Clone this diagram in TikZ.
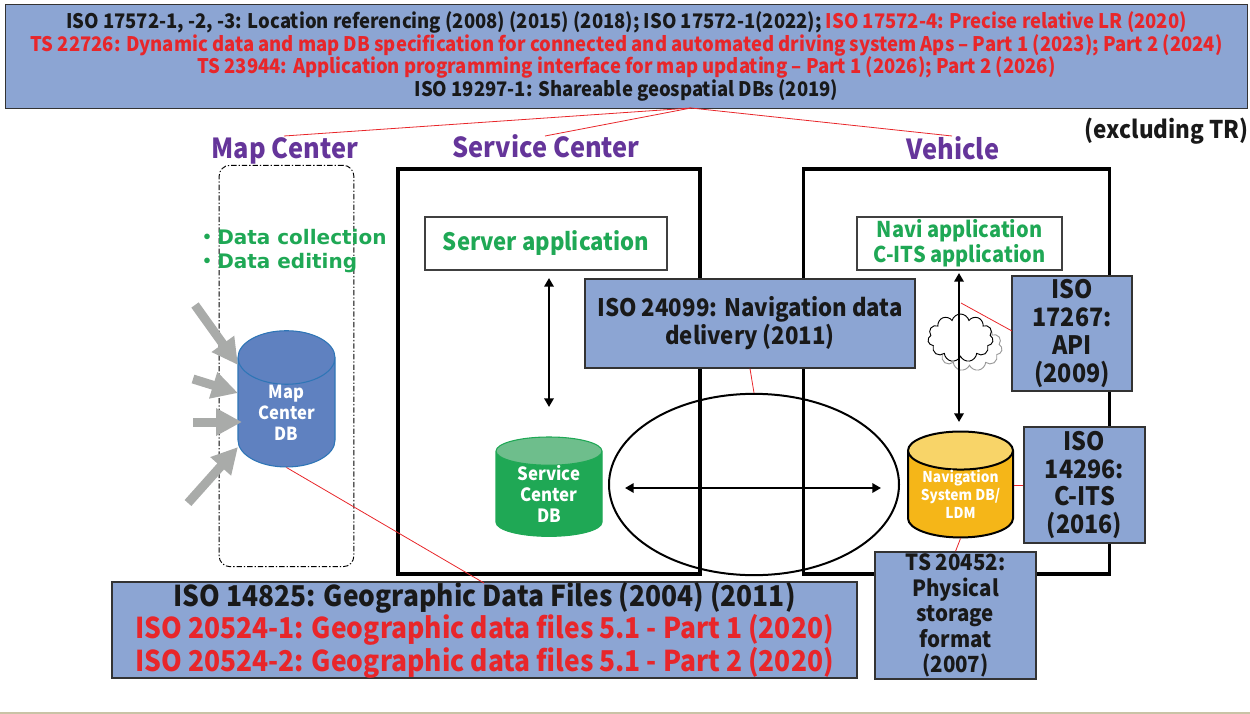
\documentclass[tikz,border=0pt]{standalone}
\usepackage{fontspec}
\setmainfont{Noto Sans CJK JP}[FakeStretch=0.92]
\newfontfamily\wideface{DejaVu Sans}
\newfontfamily\dotface{Noto Sans CJK JP}
\usepackage{tikz}
\usetikzlibrary{arrows.meta,shapes.geometric,shapes.symbols}
\definecolor{stdblue}{HTML}{8CA5D3}
\definecolor{stdred}{HTML}{E8262A}
\definecolor{titlepurple}{HTML}{65359A}
\definecolor{appgreen}{HTML}{1FA855}
\definecolor{arrowgray}{HTML}{A9ABA9}
\definecolor{mapblue}{HTML}{5F81C0}
\definecolor{mapedge}{HTML}{2E75B6}
\definecolor{greenend}{HTML}{6EBE8C}
\definecolor{navamber}{HTML}{F5B618}
\definecolor{navend}{HTML}{F8D468}
\definecolor{footline}{HTML}{C9C3A6}
\newcommand{\sz}[2]{\fontsize{#1}{#2}\selectfont\bfseries}
\newcommand{\hot}[1]{\textcolor{stdred}{#1}}
\tikzset{
	stdbox/.style={draw=black!80, line width=1pt, fill=stdblue, inner sep=0pt, align=center, text=black!90},
	appbox/.style={draw=black!75, line width=.8pt, fill=white, inner sep=0pt, align=center, text=appgreen},
	sitebox/.style={draw=black, line width=2.4pt},
	sitetitle/.style={text=titlepurple, inner sep=0pt, font=\sz{20.7}{24}},
	redline/.style={every edge/.style={draw=stdred, line width=.6pt}},
	twoway/.style={every edge/.style={draw=black, line width=2.2pt, {Triangle[length=6.5pt,width=7pt]}-{Triangle[length=6.5pt,width=7pt]}}},
	inflow/.style={every edge/.style={draw=arrowgray, line width=6.75pt, -{Triangle[length=19.5pt,width=19.5pt]}}},
	dbcyl/.style={cylinder, shape border rotate=90, inner sep=0pt, align=center, text=white, cylinder uses custom fill}
}
\begin{document}
\begin{tikzpicture}[x=0.75pt,y=-0.75pt]
	\useasboundingbox (0,0) rectangle (1250,714);
	\fill[fill=footline] (0,712) rectangle (1250,714);
	% sites
	\node[sitetitle] (mapcenter) at (285,151) {Map Center};
	\node[sitetitle] (servicecenter) at (546,146) {Service Center};
	\node[sitetitle] (vehicle) at (953,148) {Vehicle};
	\node[sitebox, minimum width=226.5pt, minimum height=303.75pt] (servicebox) at (549,371.5) {};
	\node[sitebox, minimum width=230pt, minimum height=303.75pt] (vehiclebox) at (956.5,371.5) {};
	\node[draw=black, line width=.7pt, dash pattern=on 4pt off 1.5pt on 1pt off 1.5pt, rounded corners=8pt, minimum width=101pt, minimum height=301pt] (mapbox) at (286.5,366) {};
	\node[anchor=west, inner sep=0pt, text=appgreen, align=left, font=\wideface\sz{15}{18}] (mapjobs) at (197,251) {{\dotface ・}Data collection\\{\dotface ・}Data editing};
	% databases
	\node[dbcyl, cylinder body fill=mapblue, cylinder end fill=mapblue, draw=mapedge, line width=.8pt, minimum width=72.75pt, minimum height=101pt, aspect=.95, font=\sz{13.5}{15.75}] (mapdb) at (286.5,412.5) {Map\\Center\\DB};
	\node[dbcyl, cylinder body fill=appgreen, cylinder end fill=greenend, draw=appgreen, line width=.8pt, minimum width=79.5pt, minimum height=73.5pt, aspect=.45, font=\sz{13.7}{15.5}] (servicedb) at (549,494) {Service\\Center\\DB};
	\node[dbcyl, cylinder body fill=navamber, cylinder end fill=navend, draw=black, line width=1.5pt, minimum width=78.75pt, minimum height=72.75pt, aspect=.48, font=\sz{11.2}{13.3}] (navdb) at (960.5,494.5) {Navigation\\System DB/\\LDM};
	% applications
	\node[appbox, minimum width=181.5pt, minimum height=39.75pt, font=\sz{18}{21}] (serverapp) at (546,243.5) {Server application};
	\node[appbox, minimum width=153.75pt, minimum height=39.75pt, font=\sz{16.3}{18.75}] (naviapp) at (959.5,243.5) {Navi application\\C-ITS application};
	% cloud
	\node[cloud, cloud puffs=11, aspect=1.4, draw=black!40, line width=.7pt, fill=white, minimum width=49pt, minimum height=36pt, inner sep=0pt] (cloudback) at (969.5,347) {};
	\node[cloud, cloud puffs=11, aspect=1.4, draw=black, line width=.7pt, fill=white, minimum width=49pt, minimum height=36pt, inner sep=0pt] (cloudfront) at (960.5,338) {};
	% exchange
	\node[ellipse, draw=black, line width=1.5pt, minimum width=217.5pt, minimum height=136pt, inner sep=0pt] (delivery) at (754,484.5) {};
	\coordinate (sp1) at (549,278);
	\coordinate (sp2) at (549,407);
	\coordinate (vp1) at (959,273);
	\coordinate (vp2) at (959,422);
	\coordinate (hp1) at (625,488);
	\coordinate (hp2) at (881,488);
	\path[twoway]
		(sp1) edge (sp2)
		(vp1) edge (vp2)
		(hp1) edge (hp2);
	% incoming data
	\coordinate (in1) at (195,305);
	\coordinate (in2) at (193,379);
	\coordinate (in3) at (193,422);
	\coordinate (in4) at (188,503);
	\coordinate (tip1) at (238,365);
	\coordinate (tip2) at (238,393);
	\coordinate (tip3) at (242,422);
	\coordinate (tip4) at (238,447);
	\path[inflow]
		(in1) edge (tip1)
		(in2) edge (tip2)
		(in3) edge (tip3)
		(in4) edge (tip4);
	% standards
	\node[stdbox, minimum width=931.5pt, minimum height=78pt, font=\sz{15.05}{16.9}] (topbox) at (626.5,56.5) {ISO 17572-1, -2, -3: Location referencing (2008) (2015) (2018); ISO 17572-1(2022); \hot{ISO 17572-4: Precise relative LR (2020)}\\
		\hot{TS 22726: Dynamic data and map DB specification for connected and automated driving system Aps – Part 1 (2023); Part 2 (2024)}\\
		\hot{TS 23944: Application programming interface for map updating – Part 1 (2026); Part 2 (2026)}\\
		ISO 19297-1: Shareable geospatial DBs (2019)};
	\node[anchor=east, inner sep=0pt, text=black!90, font=\sz{18.3}{21}] (excluding) at (1249,131) {(excluding TR)};
	\node[stdbox, minimum width=247.5pt, minimum height=66.75pt, font=\sz{18.1}{21}] (iso24099) at (750,323.5) {ISO 24099: Navigation data\\delivery (2011)};
	\node[stdbox, minimum width=90pt, minimum height=86.25pt, font=\sz{19}{20.8}] (iso17267) at (1072,333.5) {ISO\\17267:\\API\\(2009)};
	\node[stdbox, minimum width=90.75pt, minimum height=87pt, font=\sz{19}{20.8}] (iso14296) at (1084.5,485) {ISO\\14296:\\C-ITS\\(2016)};
	\node[stdbox, minimum width=120.75pt, minimum height=95.25pt, font=\sz{16.7}{19.1}] (ts20452) at (955.5,615.5) {TS 20452:\\Physical\\storage\\format\\(2007)};
	\node[stdbox, minimum width=558.75pt, minimum height=71.25pt, font=\sz{21.5}{24.4}] (iso14825) at (484.5,630) {ISO 14825: Geographic Data Files (2004) (2011)\\
		\hot{ISO 20524-1: Geographic data files 5.1 - Part 1 (2020)}\\
		\hot{ISO 20524-2: Geographic data files 5.1 - Part 2 (2020)}};
	% links
	\coordinate (toptap) at (691,108);
	\coordinate (maptap) at (284,136);
	\coordinate (servicetap) at (545,136);
	\coordinate (vehicletap) at (952,136);
	\coordinate (isotap) at (484,583);
	\coordinate (arrowtap) at (961,303);
	\coordinate (apitap) at (1012,331);
	\path[redline]
		(toptap) edge (maptap)
		(toptap) edge (servicetap)
		(toptap) edge (vehicletap)
		(mapdb.south) edge (isotap)
		(iso24099.south -| 750,0) edge (delivery.north)
		(arrowtap) edge (apitap)
		(iso14296.west -| navdb.east) edge (iso14296.west)
		(navdb.south) edge (ts20452.north);
\end{tikzpicture}
\end{document}
